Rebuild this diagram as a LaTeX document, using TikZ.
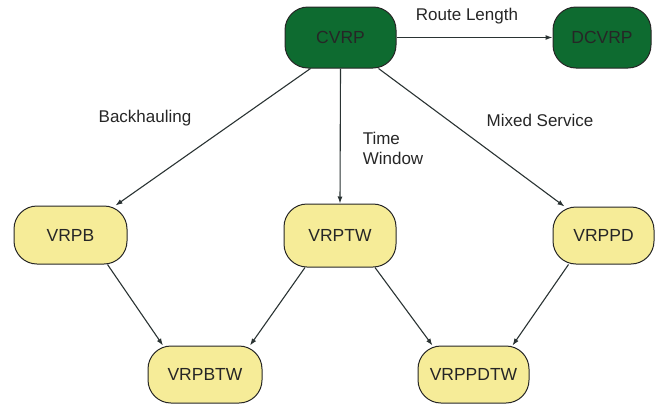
\documentclass[tikz,border=0pt]{standalone}
\usepackage{fontspec}
\setmainfont{Liberation Sans}
\usetikzlibrary{calc,arrows.meta}
\definecolor{gfill}{HTML}{0E6B30}
\definecolor{yfill}{HTML}{F6EC98}
\definecolor{edge}{HTML}{2A3333}
\begin{document}
\begin{tikzpicture}[x=1pt,y=-1pt,
  base/.style={draw=black!85,line width=1pt,rounded corners=23pt,inner sep=0pt,
    font=\fontsize{17.5}{20}\selectfont,text=black!85},
  gnode/.style={base,fill=gfill},
  ynode/.style={base,fill=yfill},
  conn/.style={draw=edge,line width=1.1pt,-{Latex[length=7pt,width=5pt]}},
  lbl/.style={font=\fontsize{17}{20}\selectfont,text=black!85}]
\useasboundingbox (0,0) rectangle (655,407);
\node[gnode,minimum width=111pt,minimum height=61pt] (cvrp) at (340.5,37.5) {CVRP};
\node[gnode,minimum width=98pt,minimum height=61pt] (dcvrp) at (602,37.5) {DCVRP};
\node[ynode,minimum width=113pt,minimum height=58pt] (vrpb) at (70.5,235) {VRPB};
\node[ynode,minimum width=112pt,minimum height=63pt] (vrptw) at (340,235.5) {VRPTW};
\node[ynode,minimum width=101pt,minimum height=57pt] (vrppd) at (603.5,235.5) {VRPPD};
\node[ynode,minimum width=114pt,minimum height=57pt] (vrpbtw) at (205,374.5) {VRPBTW};
\node[ynode,minimum width=111pt,minimum height=57pt] (vrppdtw) at (473.5,374.5) {VRPPDTW};

\draw[conn] (cvrp.east) -- (dcvrp.west);
\draw[conn] ($(cvrp.south)+(-30,0)$) -- ($(vrpb.north east)+(-12,0)$);
\draw[conn] (cvrp.south) -- (vrptw.north);
\draw[conn] ($(cvrp.south)+(38,0)$) -- ($(vrppd.north west)+(12,0)$);
\draw[conn] ($(vrpb.south)+(37,0)$) -- ($(vrpbtw.north)+(-42,0)$);
\draw[conn] ($(vrptw.south)+(-35,0)$) -- ($(vrpbtw.north)+(45,0)$);
\draw[conn] ($(vrptw.south)+(35,0)$) -- ($(vrppdtw.north)+(-41,0)$);
\draw[conn] ($(vrppd.south)+(-35,0)$) -- ($(vrppdtw.north)+(39,0)$);

\node[lbl] (lroute) at (467,16) {Route Length};
\node[lbl] (lback) at (145,118) {Backhauling};
\node[lbl,align=left] (ltime) at (393,148) {Time\\Window};
\node[lbl] (lmixed) at (540,120) {Mixed Service};
\end{tikzpicture}
\end{document}
